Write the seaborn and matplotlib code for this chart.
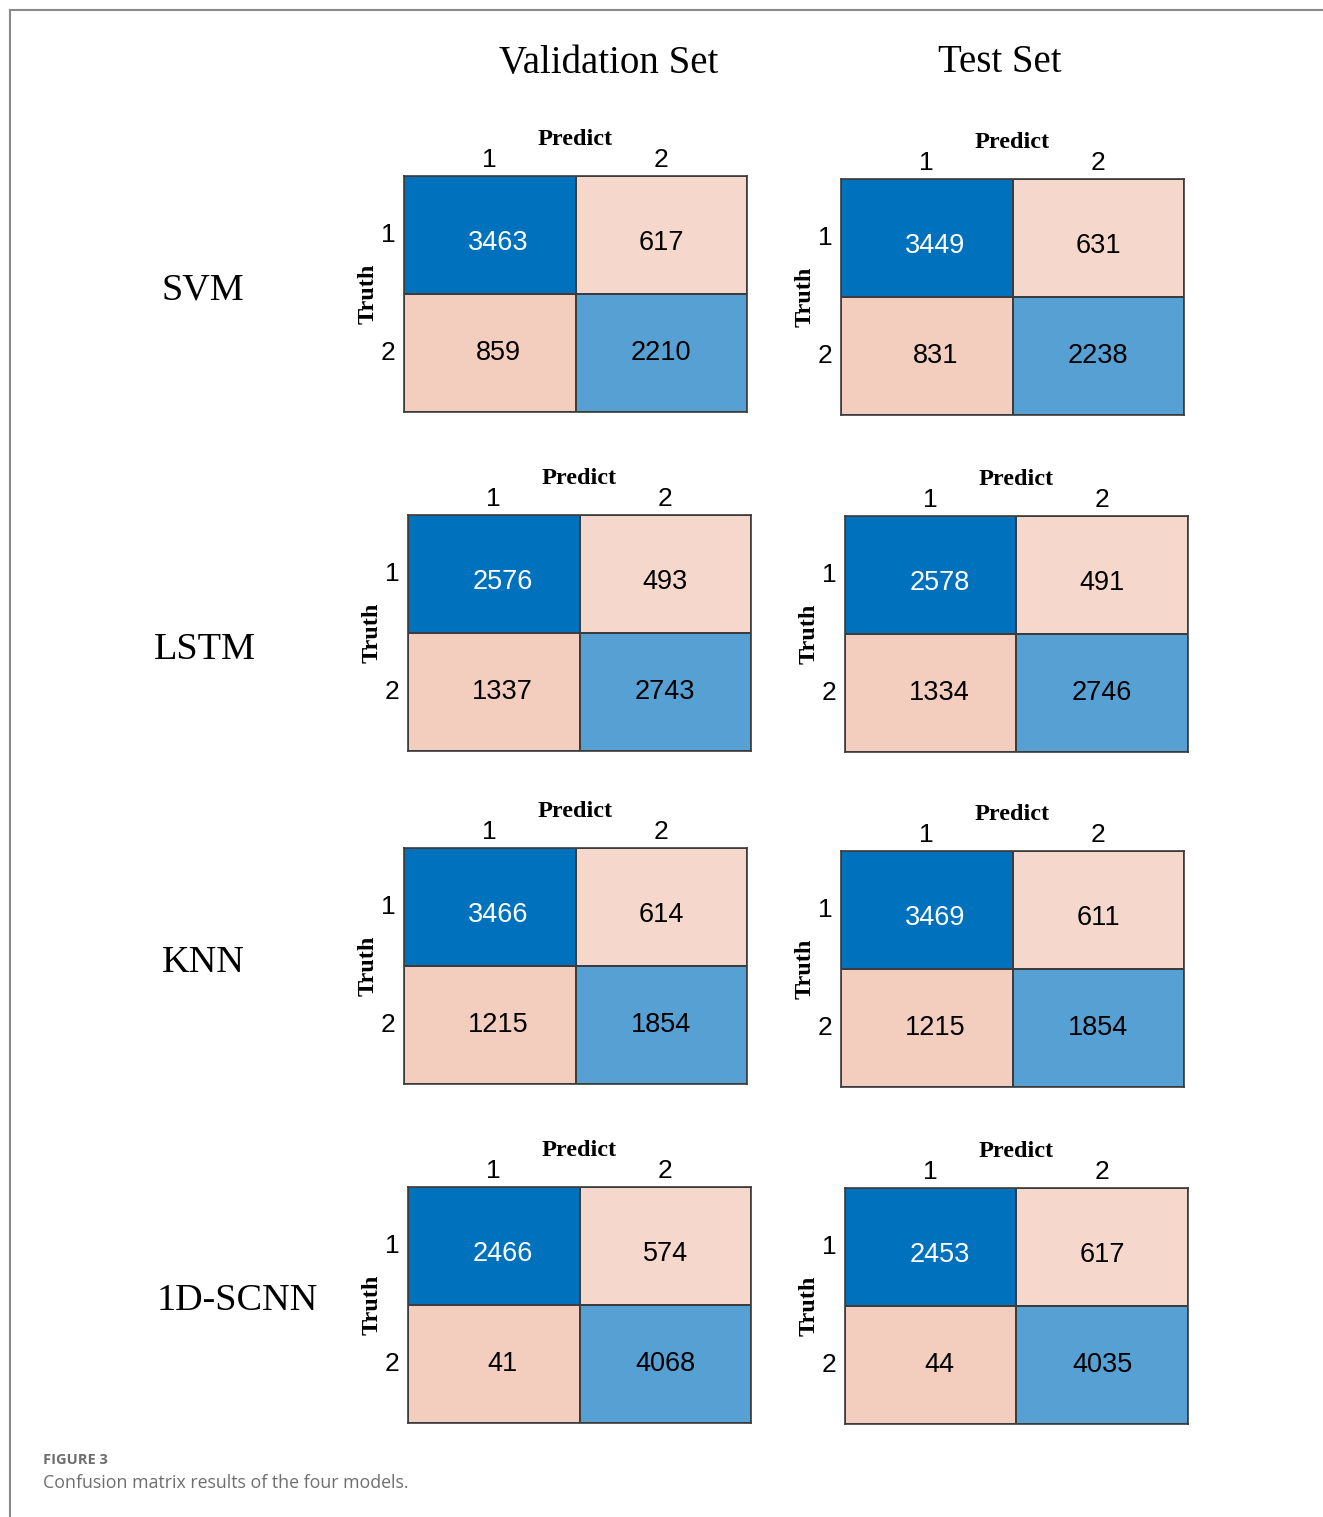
import numpy as np
import matplotlib
matplotlib.use("Agg")
import matplotlib.pyplot as plt
from matplotlib.colors import ListedColormap
from matplotlib.lines import Line2D
import seaborn as sns

# confusion matrices: [[TP, FN], [FP, TN]]
models = ["SVM", "LSTM", "KNN", "1D-SCNN"]
val_svm = [[3463, 617], [859, 2210]]
test_svm = [[3449, 631], [831, 2238]]
val_lstm = [[2576, 493], [1337, 2743]]
test_lstm = [[2578, 491], [1334, 2746]]
val_knn = [[3466, 614], [1215, 1854]]
test_knn = [[3469, 611], [1215, 1854]]
val_scnn = [[2466, 574], [41, 4068]]
test_scnn = [[2453, 617], [44, 4035]]
validation = [val_svm, val_lstm, val_knn, val_scnn]
test = [test_svm, test_lstm, test_knn, test_scnn]
class_labels = ["1", "2"]

# cell colour kind: 0 dark blue, 1 light blue, 2/3 off-diagonal pinks
kind = np.array([[0, 2], [3, 1]])
cell_colors = ["#0071BC", "#56A0D4", "#F5D8CB", "#F3CEBE"]

SERIF = "Liberation Serif"
SANS = "Liberation Sans"

W, H = 1323, 1517
fig = plt.figure(figsize=(W / 100, H / 100), dpi=100)

# panel top-left corners in pixels
val_pos = [(404, 176), (408, 515), (404, 848), (408, 1187)]
test_pos = [(841, 179), (845, 516), (841, 851), (845, 1188)]
pw, ph = 343, 236


def draw_cm(mat, x, y):
    ax = fig.add_axes([x / W, 1 - (y + ph) / H, pw / W, ph / H])
    sns.heatmap(np.array(kind), cmap=ListedColormap(cell_colors), vmin=-0.5, vmax=3.5,
                annot=np.array(mat), fmt="d", cbar=False, linewidths=1.2,
                linecolor="#3c3c3c", xticklabels=class_labels,
                yticklabels=class_labels, ax=ax,
                annot_kws={"fontsize": 19.5, "fontfamily": SANS})
    for t, k in zip(ax.texts, kind.flatten()):
        t.set_color("white" if k == 0 else "black")
        tx, ty = t.get_position()
        # the original numbers sit a little right in column 1 and low in row 1
        if tx < 1:
            tx += 0.05
        if ty < 1:
            ty += 0.07
        t.set_position((tx, ty))
    for s in ax.spines.values():
        s.set_visible(True)
        s.set_color("#3c3c3c")
        s.set_linewidth(1.2)
    ax.xaxis.tick_top()
    ax.xaxis.set_label_position("top")
    ax.tick_params(length=0, labelsize=19)
    ax.tick_params(axis="x", pad=3)
    ax.tick_params(axis="y", pad=6, labelrotation=0)
    for lab in ax.get_xticklabels() + ax.get_yticklabels():
        lab.set_fontfamily(SANS)
    ax.set_xlabel("Predict", fontsize=17.5, fontweight="bold", fontfamily=SERIF, labelpad=2)
    ax.set_ylabel("Truth", fontsize=17.5, fontweight="bold", fontfamily=SERIF, labelpad=2)
    return ax


for i in range(4):
    draw_cm(validation[i], *val_pos[i])
    draw_cm(test[i], *test_pos[i])

# column titles
fig.text(609 / W, 1 - 63 / H, "Validation Set", ha="center", va="center",
         fontsize=28, fontfamily=SERIF)
fig.text(1000 / W, 1 - 63 / H, "Test Set", ha="center", va="center",
         fontsize=28, fontfamily=SERIF)

# row labels
row_xy = [(203, 290), (205, 650), (203, 963), (237, 1301)]
for name, (x, y) in zip(models, row_xy):
    fig.text(x / W, 1 - y / H, name, ha="center", va="center", fontsize=27.5, fontfamily=SERIF)

# caption
fig.text(43 / W, 1 - 1460 / H, "FIGURE 3", ha="left", va="center", fontsize=10.5,
         fontweight="bold", color="#6e6e6e", fontfamily="Open Sans")
fig.text(43 / W, 1 - 1483 / H, "Confusion matrix results of the four models.", ha="left",
         va="center", fontsize=12.8, color="#6e6e6e", fontfamily="Open Sans")

# page frame lines
fig.add_artist(Line2D([10 / W, 1], [1 - 10 / H, 1 - 10 / H], color="#8a8a8a", lw=1.5))
fig.add_artist(Line2D([10 / W, 10 / W], [0, 1 - 10 / H], color="#8a8a8a", lw=1.5))

fig.savefig("out.png", dpi=100)
